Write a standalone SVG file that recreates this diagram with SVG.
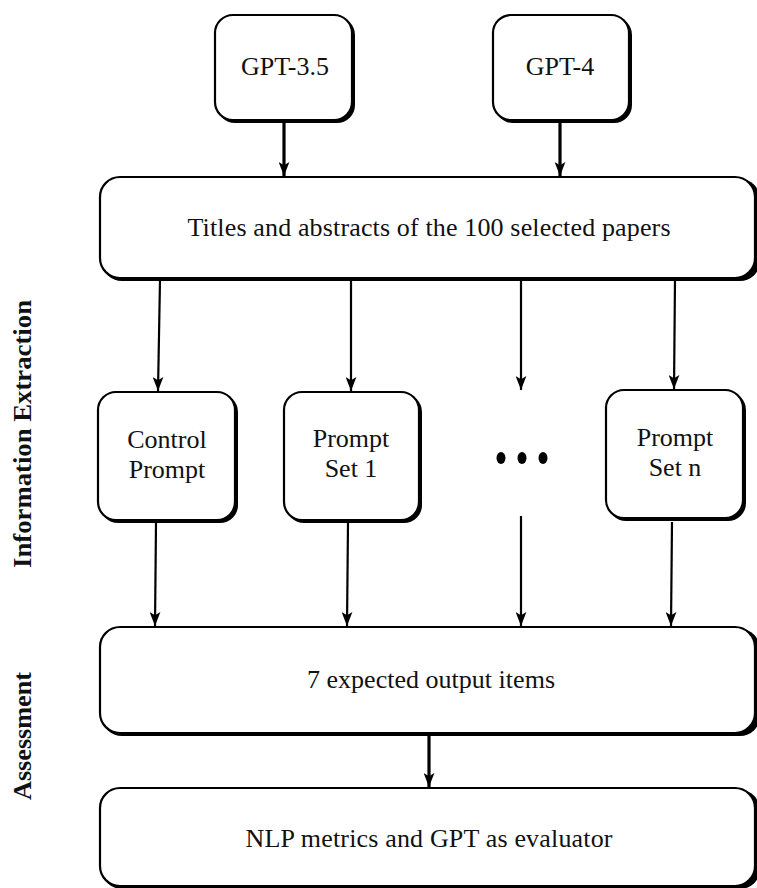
<svg xmlns="http://www.w3.org/2000/svg" width="757" height="888" viewBox="0 0 757 888">
<style>
  .box { fill: #ffffff; stroke: #000000; stroke-width: 2.2; }
  .shadow { fill: #000000; stroke: none; }
  .lbl { font-size: 26px; fill: #111111; text-anchor: middle; }
  .side { font-size: 26px; font-weight: bold; fill: #111111; text-anchor: middle; }
  .thick { stroke: #000000; stroke-width: 3.2; fill: none; }
  .thin { stroke: #000000; stroke-width: 2.2; fill: none; }
</style>
<defs>
  <marker id="ahv" viewBox="0 0 10 13" refX="5" refY="13" markerWidth="11" markerHeight="14" markerUnits="userSpaceOnUse">
    <path d="M0,0 L5,3 L10,0 L5,13 Z" fill="#000000"/>
  </marker>
</defs>

<rect width="757" height="888" fill="#ffffff"/>

<g id="label-information-extraction">
  <text class="side" font-family="'Liberation Serif', 'Times New Roman', serif" transform="translate(31,434) rotate(-90)" textLength="268" lengthAdjust="spacingAndGlyphs">Information Extraction</text>
</g>
<g id="label-assessment">
  <text class="side" font-family="'Liberation Serif', 'Times New Roman', serif" transform="translate(31,736) rotate(-90)" textLength="128" lengthAdjust="spacingAndGlyphs">Assessment</text>
</g>

<g id="connectors">
  <line class="thick" x1="284" y1="121" x2="284" y2="176" marker-end="url(#ahv)"/>
  <line class="thick" x1="560" y1="121" x2="560" y2="176" marker-end="url(#ahv)"/>
  <line class="thin" x1="160" y1="280" x2="158" y2="391" marker-end="url(#ahv)"/>
  <line class="thin" x1="351" y1="280" x2="351" y2="391" marker-end="url(#ahv)"/>
  <line class="thin" x1="521" y1="280" x2="521" y2="390" marker-end="url(#ahv)"/>
  <line class="thin" x1="675" y1="280" x2="674" y2="389" marker-end="url(#ahv)"/>
  <line class="thin" x1="156" y1="523" x2="155" y2="626" marker-end="url(#ahv)"/>
  <line class="thin" x1="348" y1="523" x2="347" y2="626" marker-end="url(#ahv)"/>
  <line class="thin" x1="521" y1="516" x2="521" y2="626" marker-end="url(#ahv)"/>
  <line class="thin" x1="672" y1="522" x2="671" y2="626" marker-end="url(#ahv)"/>
  <line class="thick" x1="429" y1="736" x2="429" y2="787" marker-end="url(#ahv)"/>
</g>

<g id="node-gpt35">
  <rect class="shadow" x="217" y="17" width="138" height="106" rx="18"/>
  <rect class="box" x="215" y="15" width="137" height="105" rx="18"/>
  <text class="lbl" font-family="'Liberation Serif', 'Times New Roman', serif" x="285" y="75">GPT-3.5</text>
</g>
<g id="node-gpt4">
  <rect class="shadow" x="495" y="17" width="137" height="106" rx="18"/>
  <rect class="box" x="493" y="15" width="136" height="105" rx="18"/>
  <text class="lbl" font-family="'Liberation Serif', 'Times New Roman', serif" x="560" y="75">GPT-4</text>
</g>
<g id="node-titles">
  <rect class="shadow" x="102" y="179" width="658" height="102" rx="20"/>
  <rect class="box" x="100" y="177" width="655" height="101" rx="20"/>
  <text class="lbl" font-family="'Liberation Serif', 'Times New Roman', serif" x="429" y="236" textLength="483" lengthAdjust="spacing">Titles and abstracts of the 100 selected papers</text>
</g>
<g id="node-control">
  <rect class="shadow" x="100" y="394" width="138" height="129" rx="18"/>
  <rect class="box" x="98" y="392" width="137" height="128" rx="18"/>
  <text class="lbl" font-family="'Liberation Serif', 'Times New Roman', serif" x="167" y="448">Control</text>
  <text class="lbl" font-family="'Liberation Serif', 'Times New Roman', serif" x="167" y="478">Prompt</text>
</g>
<g id="node-set1">
  <rect class="shadow" x="286" y="394" width="136" height="129" rx="18"/>
  <rect class="box" x="284" y="392" width="135" height="128" rx="18"/>
  <text class="lbl" font-family="'Liberation Serif', 'Times New Roman', serif" x="351" y="447">Prompt</text>
  <text class="lbl" font-family="'Liberation Serif', 'Times New Roman', serif" x="351" y="477">Set 1</text>
</g>
<g id="node-dots">
  <ellipse cx="501" cy="458" rx="4.5" ry="6" fill="#000000"/>
  <ellipse cx="522" cy="458" rx="4.5" ry="6" fill="#000000"/>
  <ellipse cx="543" cy="458" rx="4.5" ry="6" fill="#000000"/>
</g>
<g id="node-setn">
  <rect class="shadow" x="608" y="392" width="138" height="129" rx="18"/>
  <rect class="box" x="606" y="390" width="137" height="128" rx="18"/>
  <text class="lbl" font-family="'Liberation Serif', 'Times New Roman', serif" x="675" y="446">Prompt</text>
  <text class="lbl" font-family="'Liberation Serif', 'Times New Roman', serif" x="675" y="476">Set n</text>
</g>
<g id="node-outputs">
  <rect class="shadow" x="102" y="629" width="658" height="107" rx="20"/>
  <rect class="box" x="100" y="627" width="655" height="106" rx="20"/>
  <text class="lbl" font-family="'Liberation Serif', 'Times New Roman', serif" x="431" y="688" textLength="248" lengthAdjust="spacing">7 expected output items</text>
</g>
<g id="node-nlp">
  <rect class="shadow" x="102" y="790" width="658" height="99" rx="20"/>
  <rect class="box" x="100" y="788" width="655" height="98" rx="20"/>
  <text class="lbl" font-family="'Liberation Serif', 'Times New Roman', serif" x="429" y="847" textLength="367" lengthAdjust="spacing">NLP metrics and GPT as evaluator</text>
</g>
</svg>
